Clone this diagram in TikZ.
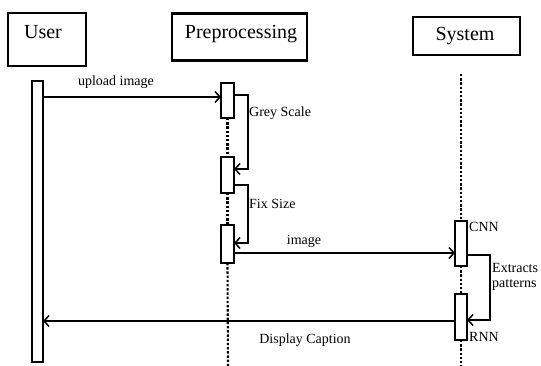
\documentclass[tikz,border=0pt]{standalone}
\usepackage{fontspec}
\setmainfont{Liberation Serif}
\usetikzlibrary{arrows.meta}
\begin{document}
\begin{tikzpicture}[x=1pt,y=-1pt,
  actorbox/.style={draw, line width=2.4pt, inner sep=0pt, outer sep=0pt},
  title/.style={font=\fontsize{20}{22}\selectfont, inner sep=0pt},
  bar/.style={draw, line width=1.5pt, fill=white, inner sep=0pt, outer sep=0pt, minimum width=12pt},
  msg/.style={line width=1.5pt, -{Straight Barb[length=5pt,width=11pt]}},
  lbl/.style={font=\fontsize{14}{15}\selectfont, inner sep=0pt},
  life/.style={line width=2.1pt, dash pattern=on 2.4pt off 1.8pt}
]
\useasboundingbox (0,0) rectangle (541,366);
% actor boxes
\node[actorbox, minimum width=78pt, minimum height=53pt] (userbox) at (47,39.5) {};
\node[title] (usert) at (43,32) {User};
\node[actorbox, minimum width=135pt, minimum height=47pt] (prebox) at (239.5,37) {};
\node[title] (pret) at (241,34) {Preprocessing};
\node[actorbox, minimum width=107pt, minimum height=38pt] (sysbox) at (466.5,36) {};
\node[title] (syst) at (465,36) {System};
% lifelines
\coordinate (prebot) at (228,366);
\coordinate (systop) at (461,74);
\coordinate (sysbot) at (461,366);
% bars
\node[bar, minimum width=11pt, minimum height=281pt] (ubar) at (37.5,221.5) {};
\node[bar, minimum width=13pt, minimum height=35pt] (pre1) at (227.5,100.5) {};
\node[bar, minimum width=13pt, minimum height=36pt] (pre2) at (227.5,175) {};
\node[bar, minimum width=13pt, minimum height=38pt] (pre3) at (227.5,244) {};
\node[bar, minimum height=45pt] (cnn) at (461,243.5) {};
\node[bar, minimum height=46pt] (rnn) at (461,317) {};
% dotted lifelines
\draw[life] (pre1.south) -- (pre2.north);
\draw[life] (pre2.south) -- (pre3.north);
\draw[life] (pre3.south) -- (prebot);
\draw[life] (systop) -- (cnn.north);
\draw[life] (cnn.south) -- (rnn.north);
\draw[life] (rnn.south) -- (sysbot);
% messages
\draw[msg] (ubar.east |- 0,97) -- (pre1.west |- 0,97);
\node[lbl] (l1) at (116,82) {upload image};
\draw[msg] (pre1.east |- 0,95) -- (248,95) -- (248,169) -- (pre2.east |- 0,169);
\node[lbl, anchor=west] (l2) at (249,113) {Grey Scale};
\draw[msg] (pre2.east |- 0,185) -- (248,185) -- (248,243) -- (pre3.east |- 0,243);
\node[lbl, anchor=west] (l3) at (249,204) {Fix Size};
\draw[msg] (pre3.east |- 0,253) -- (cnn.west |- 0,253);
\node[lbl] (l4) at (304,241) {image};
\draw[msg] (cnn.east |- 0,255) -- (490,255) -- (490,320) -- (rnn.east |- 0,320);
\node[lbl, anchor=west, align=left, font=\fontsize{14}{14.5}\selectfont] (l5) at (492,277) {Extracts\\patterns};
\node[lbl, anchor=west] (lc) at (469,227) {CNN};
\node[lbl, anchor=west] (lr) at (469,337) {RNN};
\draw[msg] (rnn.west |- 0,321) -- (ubar.east |- 0,321);
\node[lbl] (l6) at (305,340) {Display Caption};
\end{tikzpicture}
\end{document}
